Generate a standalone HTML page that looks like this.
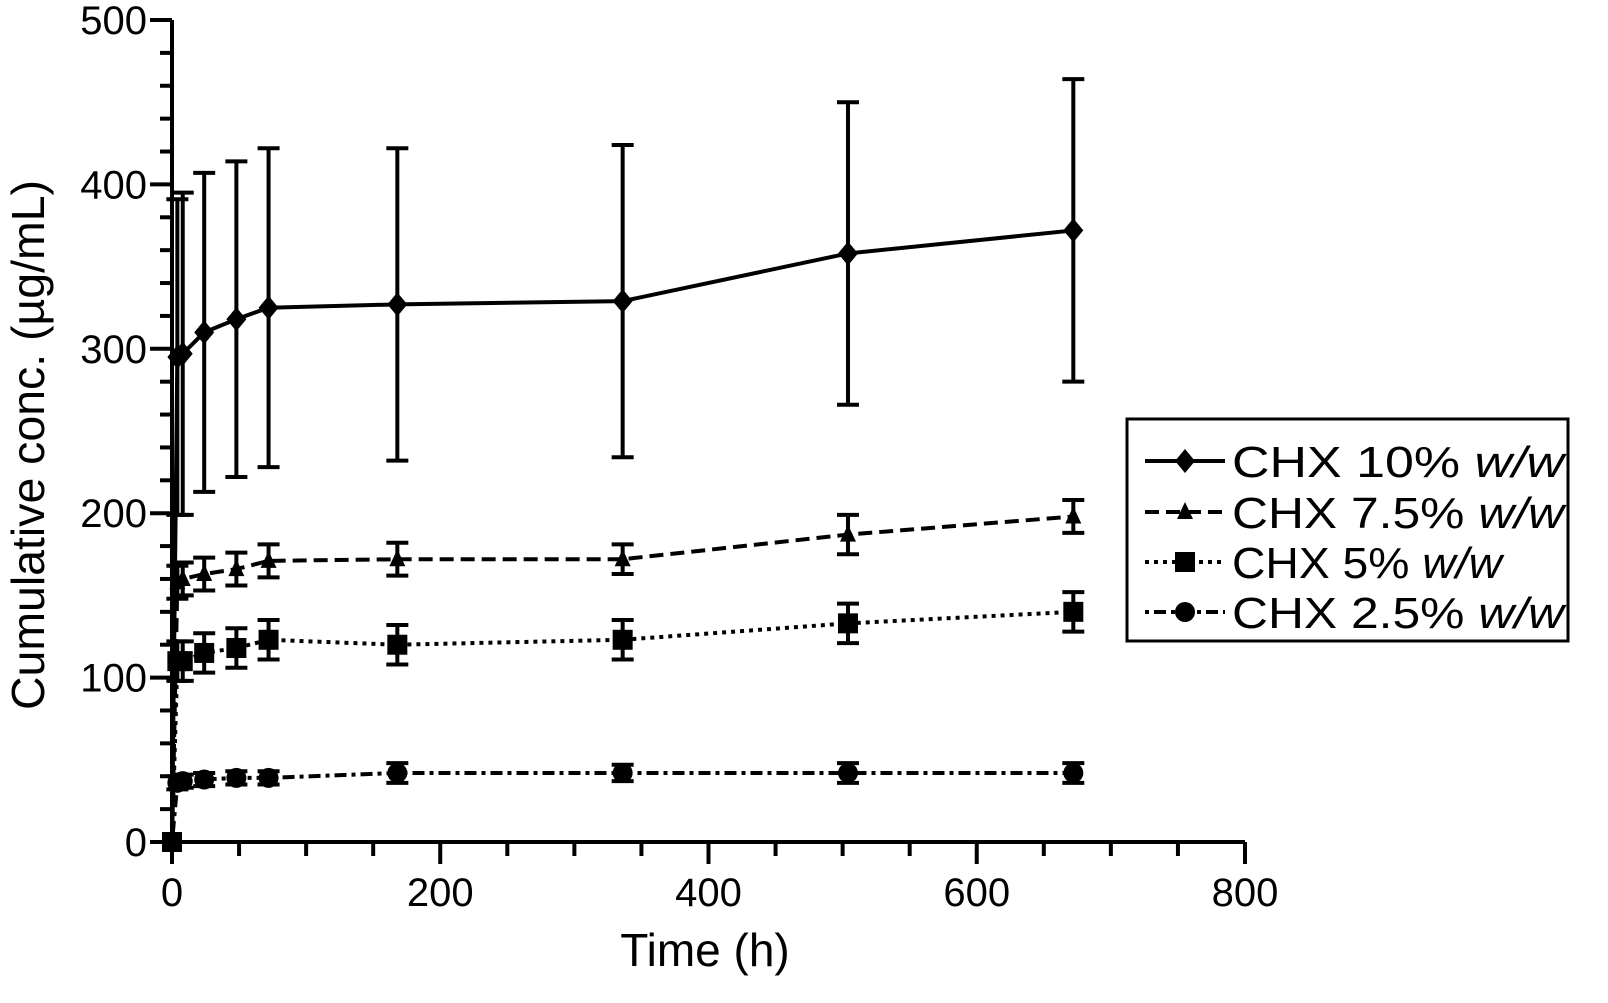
<!DOCTYPE html>
<html><head><meta charset="utf-8"><style>
body{margin:0;background:#fff}
svg{display:block;font-family:"Liberation Sans",sans-serif}
</style></head><body>
<svg width="1608" height="1003" viewBox="0 0 1608 1003">
<g id="plot"></g>
</svg>
<script>
const times=[4,8,24,48,72,168,336,504,672];
const s10=[295,297,310,318,325,327,329,358,372];
const s10err=[96,98,97,96,97,95,95,92,92];
const s75=[158,160,163,166,171,172,172,187,198];
const s75err=[10,10,10,10,10,10,9,12,10];
const s5=[110,110,115,118,123,120,123,133,140];
const s5err=[12,12,12,12,12,12,12,12,12];
const s25=[36,37,38,39,39,42,42,42,42];
const s25err=[4,4,4,4,4,6,5,6,6];
const xTicks=[0,200,400,600,800];
const yTicks=[0,100,200,300,400,500];
const names=["CHX 10% ","CHX 7.5% ","CHX 5% ","CHX 2.5% "];

const NS="http://www.w3.org/2000/svg";
const g=document.getElementById('plot');
const X=v=>172+v*(1245-172)/800;
const Y=v=>842-v*(842-20)/500;
function mk(t,a,p){const e=document.createElementNS(NS,t);for(const k in a)e.setAttribute(k,a[k]);(p||g).appendChild(e);return e;}
let ax=mk('line',{x1:172,y1:20,x2:172,y2:842,stroke:'#000','stroke-width':4});


ax=mk('line',{x1:172,y1:842,x2:1245,y2:842,stroke:'#000','stroke-width':4});


for(let v=0;v<=500;v+=20){const major=v%100===0;let t=mk('line',{x1:major?150:160,x2:172,y1:Y(v),y2:Y(v),stroke:'#000','stroke-width':4});

}
for(let v=0;v<=800;v+=50){const major=v%200===0;let t=mk('line',{x1:X(v),x2:X(v),y1:842,y2:major?864:856,stroke:'#000','stroke-width':4});

}
yTicks.forEach(v=>{let t=mk('text',{x:147,y:Y(v)+14,'font-size':40,'text-anchor':'end'});t.textContent=v;

});
xTicks.forEach(v=>{let t=mk('text',{x:X(v),y:906,'font-size':40,'text-anchor':'middle'});t.textContent=v;

});
let xt=mk('text',{x:705,y:966,'font-size':46,'text-anchor':'middle'});xt.textContent='Time (h)';


let yt=mk('text',{x:0,y:0,'font-size':46,'text-anchor':'middle',textLength:530,lengthAdjust:'spacingAndGlyphs',transform:'translate(44,445) rotate(-90)'});yt.textContent='Cumulative conc. (µg/mL)';



const series=[[s10,s10err,'none','d'],[s75,s75err,'14,7','t'],[s5,s5err,'4,5','s'],[s25,s25err,'4,5,12,5','c']];
function marker(type,cx,cy,p){
 let m;
 if(type==='d')m=mk('polygon',{points:`${cx},${cy-12} ${cx+10},${cy} ${cx},${cy+12} ${cx-10},${cy}`,fill:'#000'},p);
 else if(type==='t')m=mk('polygon',{points:`${cx},${cy-10} ${cx+8},${cy+7} ${cx-8},${cy+7}`,fill:'#000'},p);
 else if(type==='s')m=mk('rect',{x:cx-10,y:cy-10,width:20,height:20,fill:'#000'},p);
 else m=mk('circle',{cx:cx,cy:cy,r:10,fill:'#000'},p);
 return m;
}
series.forEach((s,i)=>{
 const [vals,errs,dash,type]=s;
 const grp=mk('g',{});
 
 
 let d=`M${X(0)},${Y(0)}`+times.map((t,j)=>`L${X(t)},${Y(vals[j])}`).join('');
 let ln=mk('path',{d:d,fill:'none',stroke:'#000','stroke-width':4,'stroke-dasharray':dash},grp);
 
 
 times.forEach((t,j)=>{
  const x=X(t),y1=Y(vals[j]+errs[j]),y2=Y(vals[j]-errs[j]);
  let e=mk('path',{d:`M${x},${y1}V${y2}M${x-11},${y1}H${x+11}M${x-11},${y2}H${x+11}`,stroke:'#000','stroke-width':4,fill:'none'},grp);
  
  
  let m=marker(type,x,Y(vals[j]),grp);
  
  
 });
});
let z=marker('s',X(0),Y(0),g);


const lg=mk('g',{});


mk('rect',{x:1127,y:419,width:441,height:222,fill:'#fff',stroke:'#000','stroke-width':3},lg);
const ly=[461,512,562,612];
const lw=[332,332,270,332];
series.forEach((s,i)=>{
 const e=mk('g',{},lg);
 
 
 mk('line',{x1:1145,x2:1225,y1:ly[i],y2:ly[i],stroke:'#000','stroke-width':4,'stroke-dasharray':s[2]},e);
 marker(s[3],1185,ly[i],e);
 const t=mk('text',{x:1232,y:ly[i]+16,'font-size':44,textLength:lw[i],lengthAdjust:'spacingAndGlyphs'},e);
 t.textContent=names[i];
 const it=mk('tspan',{'font-style':'italic'},t);it.textContent='w/w';
});
</script>
</body></html>
